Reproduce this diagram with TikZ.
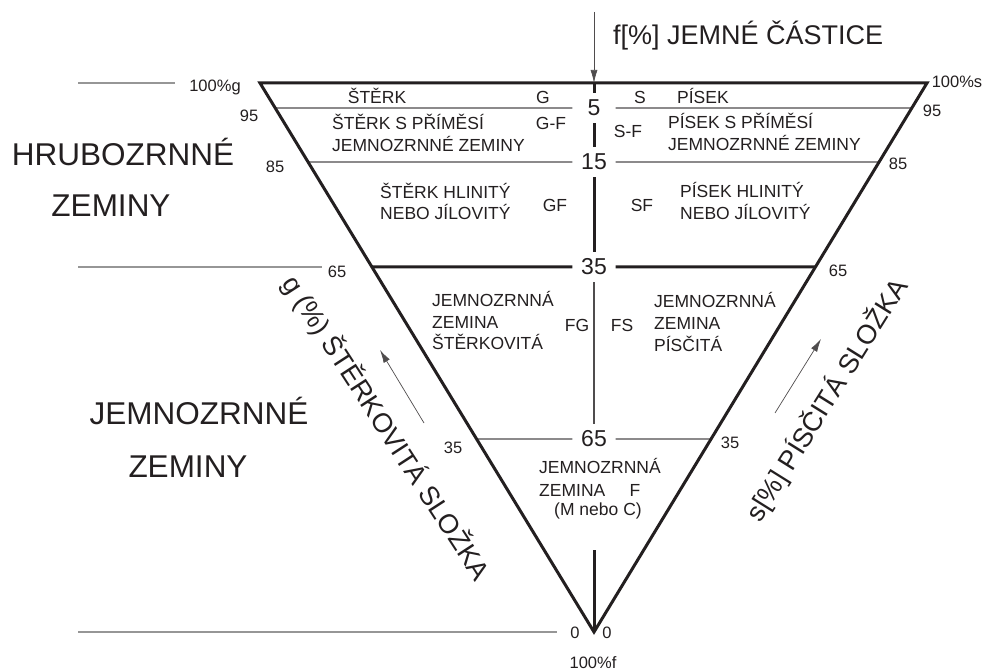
\documentclass[tikz,border=0pt]{standalone}
\usepackage{fontspec}
\setmainfont{Liberation Sans}
\usetikzlibrary{calc,arrows.meta}
\definecolor{ink}{RGB}{35,31,32}
\definecolor{rule}{RGB}{150,150,150}

\begin{document}
\begin{tikzpicture}[x=1pt,y=-1pt]
\tikzstyle{rim}=[line width=3pt,draw=ink]
\tikzstyle{divider}=[line width=1.1pt,draw=ink!80]
\tikzstyle{guide}=[line width=1.3pt,draw=rule]
\tikzstyle{pointer}=[line width=0.7pt,draw=ink!80,-{Latex[length=13pt,width=7pt]}]
\tikzstyle{big}=[font=\fontsize{31.5}{36}\selectfont,text=ink,anchor=base,inner sep=0pt]
\tikzstyle{axis}=[font=\fontsize{27}{30}\selectfont,text=ink,inner sep=0pt]
\tikzstyle{perc}=[font=\fontsize{23}{26}\selectfont,text=ink,minimum width=43pt,minimum height=30pt,inner sep=0pt]
\tikzstyle{zone}=[font=\fontsize{17.5}{20}\selectfont,text=ink,anchor=base west,inner sep=0pt]
\tikzstyle{code}=[font=\fontsize{17.5}{20}\selectfont,text=ink,anchor=base,inner sep=0pt]
\tikzstyle{tick}=[font=\fontsize{16.5}{19}\selectfont,text=ink,anchor=base,inner sep=0pt]
\useasboundingbox (0,0) rectangle (986,671);

% corners of the triangle
\coordinate (A) at (260,83);
\coordinate (B) at (927,83);
\coordinate (C) at (594,632);
\coordinate (top) at (594,83);
\coordinate (fbot) at (594,550);

% class limits on both sides
\coordinate (L5) at ($(A)!{25/549}!(C)$);
\coordinate (R5) at ($(B)!{25/549}!(C)$);
\coordinate (L15) at ($(A)!{79/549}!(C)$);
\coordinate (R15) at ($(B)!{79/549}!(C)$);
\coordinate (L35) at ($(A)!{184/549}!(C)$);
\coordinate (R35) at ($(B)!{184/549}!(C)$);
\coordinate (L65) at ($(A)!{356/549}!(C)$);
\coordinate (R65) at ($(B)!{356/549}!(C)$);

% f values on the axis
\node [perc] (n5) at (594,108) {5};
\node [perc] (n15) at (594,162) {15};
\node [perc] (n35) at (594,267) {35};
\node [perc] (n65) at (594,439) {65};

\draw [divider] (L5) -- (n5) -- (R5);
\draw [divider] (L15) -- (n15) -- (R15);
\draw [rim] (L35) -- (n35) -- (R35);
\draw [divider] (L65) -- (n65) -- (R65);
\draw [rim] (top) -- (n5) -- (n15) -- (n35);
\draw [divider] (n35) -- (n65);
\draw [rim] (fbot) -- (C);
\draw [rim,line join=miter] (A) -- (B) -- (C) -- cycle;

% grey limits on the left
\coordinate (g0a) at (78,83);
\coordinate (g0b) at (175,83);
\coordinate (g1a) at (78,267);
\coordinate (g1b) at (322,267);
\coordinate (g2a) at (78,632);
\coordinate (g2b) at (557,632);
\draw [guide] (g0a) -- (g0b);
\draw [guide] (g1a) -- (g1b);
\draw [guide] (g2a) -- (g2b);

% arrows
\coordinate (ftail) at (594,12);
\coordinate (gtail) at (424,423);
\coordinate (ghead) at (380,350);
\coordinate (stail) at (775,413);
\coordinate (shead) at (821,339);
\draw [pointer] (ftail) -- (top);
\draw [pointer] (gtail) -- (ghead);
\draw [pointer] (stail) -- (shead);

% axis titles
\node [axis,anchor=base west] (ftitle) at (613,45) {f[\%] JEMNÉ ČÁSTICE};
\node [axis,rotate=-57] (gtitle) at (386,428) {g (\%) ŠTĚRKOVITÁ SLOŽKA};
\node [axis,rotate=58] (stitle) at (827,400) {s[\%] PÍSČITÁ SLOŽKA};

% soil groups
\node [big] (coarse1) at (123,166) {HRUBOZRNNÉ};
\node [big] (coarse2) at (111,217) {ZEMINY};
\node [big] (fine1) at (199,424) {JEMNOZRNNÉ};
\node [big] (fine2) at (188,477) {ZEMINY};

% gravel side
\node [code] (gG) at (377,104) {ŠTĚRK};
\node [code] (cG) at (543,104) {G};
\node [zone] (gGF1) at (332,130) {ŠTĚRK S PŘÍMĚSÍ};
\node [zone] (gGF2) at (332,152) {JEMNOZRNNÉ ZEMINY};
\node [code] (cGF) at (551,130) {G-F};
\node [zone] (gGc1) at (380,199) {ŠTĚRK HLINITÝ};
\node [zone] (gGc2) at (380,220) {NEBO JÍLOVITÝ};
\node [code] (cGc) at (555,212) {GF};

% sand side
\node [code] (cS) at (640,104) {S};
\node [zone] (sS) at (677,104) {PÍSEK};
\node [code] (cSF) at (628,138) {S-F};
\node [zone] (sSF1) at (668,129) {PÍSEK S PŘÍMĚSÍ};
\node [zone] (sSF2) at (668,151) {JEMNOZRNNÉ ZEMINY};
\node [code] (cSc) at (642,212) {SF};
\node [zone] (sSc1) at (680,198) {PÍSEK HLINITÝ};
\node [zone] (sSc2) at (680,220) {NEBO JÍLOVITÝ};

% fine soils
\node [zone] (fg1) at (432,307) {JEMNOZRNNÁ};
\node [zone] (fg2) at (432,328) {ZEMINA};
\node [zone] (fg3) at (432,349) {ŠTĚRKOVITÁ};
\node [code] (cFG) at (577,331) {FG};
\node [code] (cFS) at (622,331) {FS};
\node [zone] (fs1) at (654,308) {JEMNOZRNNÁ};
\node [zone] (fs2) at (654,330) {ZEMINA};
\node [zone] (fs3) at (654,352) {PÍSČITÁ};
\node [zone] (ff1) at (539,473) {JEMNOZRNNÁ};
\node [zone] (ff2) at (539,496) {ZEMINA};
\node [code] (cF) at (635,496) {F};
\node [code] (cMC) at (598,515) {(M nebo C)};

% values on the sides
\node [tick] (tg100) at (215,92) {100\%g};
\node [tick] (tg95) at (249,122) {95};
\node [tick] (tg85) at (275,173) {85};
\node [tick] (tg65) at (337,278) {65};
\node [tick] (tg35) at (453,453) {35};
\node [tick] (tg0) at (575,638) {0};
\node [tick] (ts0) at (607,638) {0};
\node [tick] (tf100) at (593,668) {100\%f};
\node [tick] (ts100) at (957,88) {100\%s};
\node [tick] (ts95) at (932,117) {95};
\node [tick] (ts85) at (898,170) {85};
\node [tick] (ts65) at (838,277) {65};
\node [tick] (ts35) at (730,448) {35};
\end{tikzpicture}
\end{document}
